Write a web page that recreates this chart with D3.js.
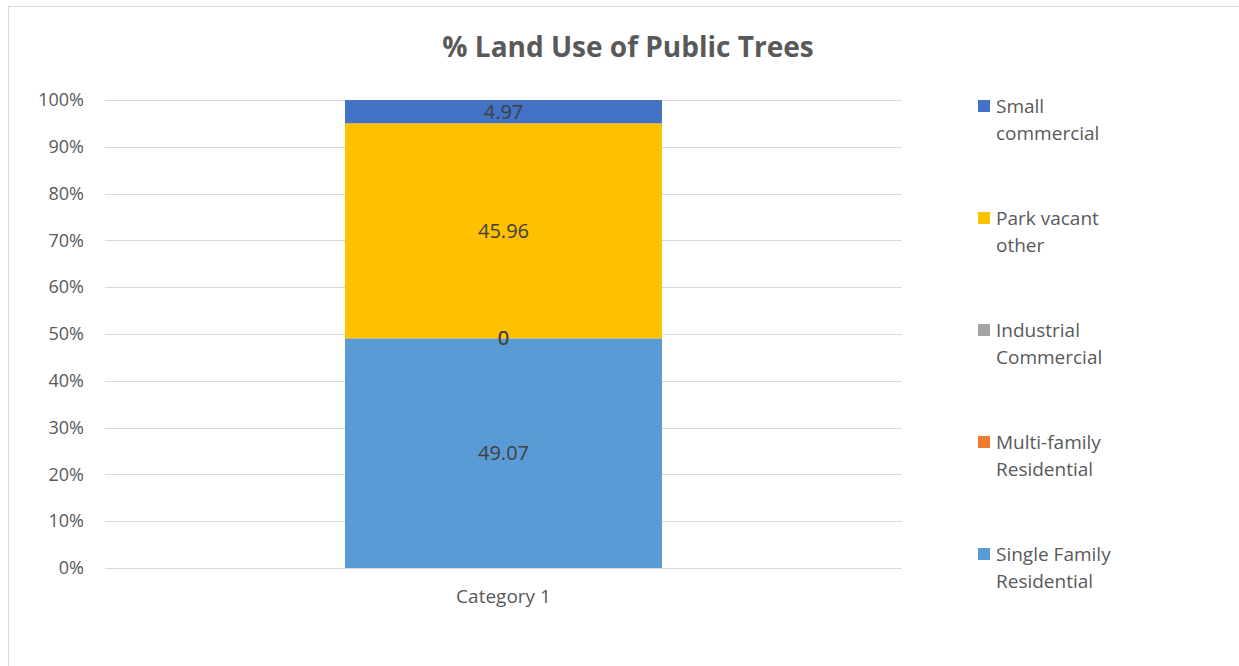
<!DOCTYPE html>
<html>
<head>
<meta charset="utf-8">
<script src="https://cdn.jsdelivr.net/npm/d3@7"></script>
<style>
  body { margin: 0; background: #fff; }
  svg text { font-family: "Open Sans", "Noto Sans", sans-serif; }
</style>
</head>
<body>
<div id="chart"></div>
<script>
// stacked 100% bar - land use of public trees
var categories = ["Category 1"];
var seriesNames = ["Single Family Residential", "Multi-family Residential", "Industrial Commercial", "Park vacant other", "Small commercial"];
var seriesValues = [49.07, 0, 0, 45.96, 4.97];
var seriesColors = ["#5B9BD5", "#ED7D31", "#A5A5A5", "#FFC000", "#4472C4"];
var legendLines = [["Single Family", "Residential"], ["Multi-family", "Residential"], ["Industrial", "Commercial"], ["Park vacant", "other"], ["Small", "commercial"]];
var yTicks = [0, 0.1, 0.2, 0.3, 0.4, 0.5, 0.6, 0.7, 0.8, 0.9, 1];

var svgWidth = 1239, svgHeight = 666;
var margin = {top: 100, left: 105, right: 337, bottom: 98};
var chartWidth = svgWidth - margin.left - margin.right;
var chartHeight = svgHeight - margin.top - margin.bottom;

var svg = d3.select("#chart").append("svg")
  .attr("width", svgWidth)
  .attr("height", svgHeight);

// outer chart border
svg.append("rect")
  .attr("x", 8.5).attr("y", 6.5)
  .attr("width", 1260).attr("height", 700)
  .attr("fill", "none")
  .attr("stroke", "#d9d9d9");

svg.append("text")
  .attr("x", 628).attr("y", 57)
  .attr("text-anchor", "middle")
  .attr("font-size", 28)
  .attr("font-weight", "bold")
  .attr("fill", "#595959")
  .text("% Land Use of Public Trees");

var chartGroup = svg.append("g")
  .attr("transform", `translate(${margin.left}, ${margin.top})`);

var total = d3.sum(seriesValues);
var row = {};
seriesNames.forEach((s, i) => { row[s] = seriesValues[i] / total; });
var stacked = d3.stack().keys(seriesNames)([row]);

var yScale = d3.scaleLinear().domain([0, 1]).range([chartHeight, 0]);
var xScale = d3.scaleBand().domain(categories).range([0, chartWidth]).paddingInner(0).paddingOuter(0.757);

// gridlines
chartGroup.append("g")
  .selectAll("line")
  .data(yTicks)
  .enter()
  .append("line")
  .attr("x1", 0).attr("x2", chartWidth)
  .attr("y1", d => Math.round(yScale(d)) + 0.5)
  .attr("y2", d => Math.round(yScale(d)) + 0.5)
  .attr("stroke", "#d9d9d9")
  .attr("stroke-width", 1);

// y axis
var yAxis = d3.axisLeft(yScale).tickValues(yTicks).tickFormat(d3.format(".0%")).tickSize(0).tickPadding(21);
var yG = chartGroup.append("g").call(yAxis);
yG.select(".domain").remove();
yG.selectAll("text").attr("font-size", 18).attr("fill", "#595959");

// x axis
var xAxis = d3.axisBottom(xScale).tickSize(0).tickPadding(22);
var xG = chartGroup.append("g").attr("transform", `translate(0, ${chartHeight})`).call(xAxis);
xG.select(".domain").remove();
xG.selectAll("text").attr("font-size", 19).attr("fill", "#595959");

// bars
chartGroup.selectAll(".seg")
  .data(stacked)
  .enter()
  .append("rect")
  .classed("seg", true)
  .attr("x", xScale(categories[0]))
  .attr("width", xScale.bandwidth())
  .attr("y", d => yScale(d[0][1]))
  .attr("height", d => yScale(d[0][0]) - yScale(d[0][1]))
  .attr("fill", (d, i) => seriesColors[i]);

// data labels
chartGroup.selectAll(".lbl")
  .data(stacked)
  .enter()
  .append("text")
  .classed("lbl", true)
  .attr("x", xScale(categories[0]) + xScale.bandwidth() / 2)
  .attr("y", d => yScale((d[0][0] + d[0][1]) / 2))
  .attr("dy", "0.35em")
  .attr("text-anchor", "middle")
  .attr("font-size", 20)
  .attr("fill", "#404040")
  .text((d, i) => seriesValues[i]);

// legend, top to bottom in reverse series order
var legend = svg.append("g").attr("transform", "translate(978, 0)");
var order = d3.range(seriesNames.length).reverse();
order.forEach((si, k) => {
  var y0 = 106 + k * 112;
  legend.append("rect")
    .attr("x", 0).attr("y", y0 - 6)
    .attr("width", 12).attr("height", 12)
    .attr("fill", seriesColors[si]);
  legendLines[si].forEach((line, j) => {
    legend.append("text")
      .attr("x", 18).attr("y", y0 + j * 27)
      .attr("dy", "0.35em")
      .attr("font-size", 19)
      .attr("fill", "#595959")
      .text(line);
  });
});
</script>
</body>
</html>
